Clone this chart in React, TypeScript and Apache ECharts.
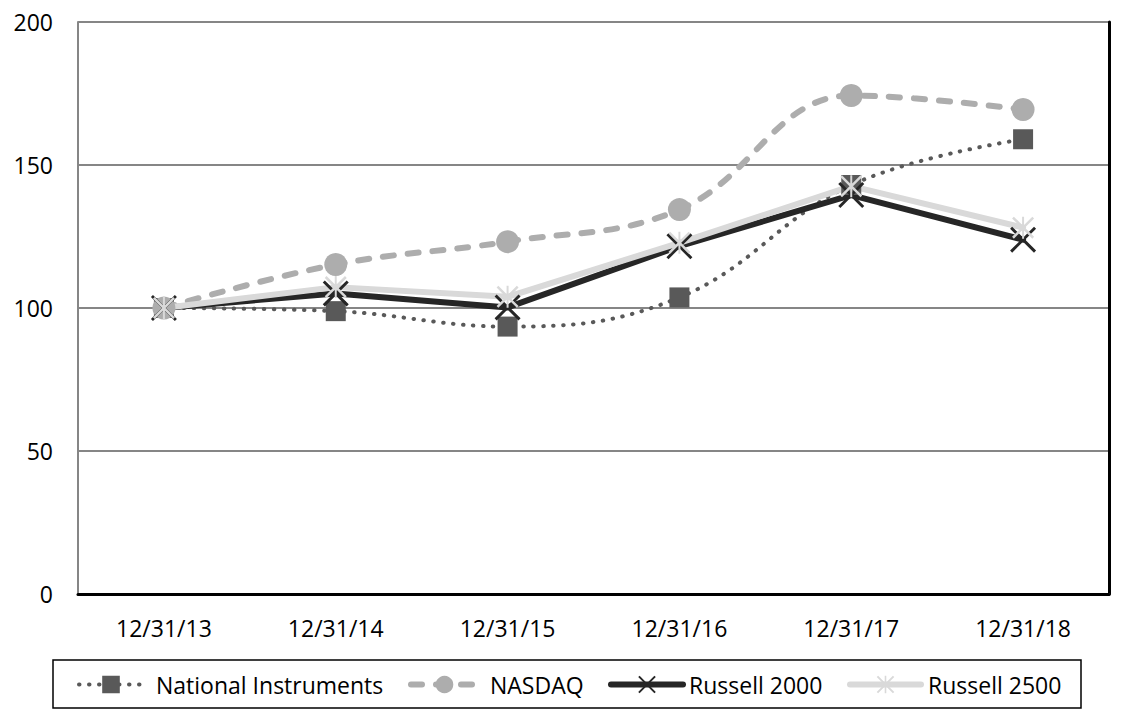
import React, { useEffect, useRef } from "react";
import * as echarts from "echarts";

const categories = ["12/31/13", "12/31/14", "12/31/15", "12/31/16", "12/31/17", "12/31/18"];
const nationalInstruments = [100, 98.9, 93.5, 103.7, 143, 159];
const nasdaq = [100, 115.2, 123.2, 134.4, 174.3, 169.4];
const russell2000 = [100, 105.1, 100.2, 121.6, 139.5, 123.9];
const russell2500 = [100, 107.3, 103.9, 122.8, 142.6, 128.1];
const yTicks = { min: 0, max: 200, interval: 50 };

const X_PATH = "path://M0,0.8 L0.8,0 L10,9.2 L9.2,10 Z M9.2,0 L10,0.8 L0.8,10 L0,9.2 Z";
const STAR_PATH =
  "path://M0,0.8 L0.8,0 L10,9.2 L9.2,10 Z M9.2,0 L10,0.8 L0.8,10 L0,9.2 Z M4.55,0 L5.45,0 L5.45,10 L4.55,10 Z";

const FONT = "Open Sans";

export default function App() {
  const ref = useRef<HTMLDivElement>(null);
  useEffect(() => {
    if (!ref.current) return;
    const chart = echarts.init(ref.current, null, { renderer: "svg" });
    const axisGrey = "#868686";
    const legendBase = (
      name: string,
      left: number,
      width: number,
      padLeft: number,
      lineStyle: any
    ) => ({
      data: [name],
      left,
      top: 673,
      padding: 0,
      itemWidth: width,
      itemHeight: 22,
      lineStyle,
      textStyle: { fontFamily: FONT, fontSize: 23, color: "#000", padding: [0, 0, 0, padLeft] },
    });
    chart.setOption({
      animation: false,
      backgroundColor: "#fff",
      textStyle: { fontFamily: FONT },
      grid: { left: 78, right: 19, top: 22, bottom: 126 },
      legend: [
        legendBase("National Instruments", 77, 64, 8, { width: 4, type: [0.5, 9.5], cap: "round" }),
        legendBase("NASDAQ", 408, 67, 7, { width: 6, type: [11, 14], cap: "round" }),
        legendBase("Russell 2000", 608, 72, 1, { width: 6, type: "solid", cap: "round" }),
        legendBase("Russell 2500", 847, 71, 2, { width: 6, type: "solid", cap: "round" }),
      ],
      xAxis: [
        {
          type: "category",
          data: categories,
          boundaryGap: true,
          axisLine: { lineStyle: { color: axisGrey, width: 2 } },
          axisTick: { show: false },
          axisLabel: { fontFamily: FONT, fontSize: 23, color: "#000", margin: 22 },
        },
        {
          type: "category",
          data: categories,
          position: "top",
          boundaryGap: true,
          axisLine: { lineStyle: { color: "#000", width: 3 } },
          axisTick: { show: false },
          axisLabel: { show: false },
        },
      ],
      yAxis: [
        {
          type: "value",
          min: yTicks.min,
          max: yTicks.max,
          interval: yTicks.interval,
          axisLine: { show: true, lineStyle: { color: axisGrey, width: 2 } },
          axisTick: { show: false },
          splitLine: { lineStyle: { color: axisGrey, width: 2 } },
          axisLabel: { fontFamily: FONT, fontSize: 23, color: "#000", margin: 25 },
        },
        {
          type: "value",
          position: "right",
          min: yTicks.min,
          max: yTicks.max,
          interval: yTicks.interval,
          axisLine: { show: true, lineStyle: { color: "#000", width: 3 } },
          axisTick: { show: false },
          splitLine: { show: false },
          axisLabel: { show: false },
        },
      ],
      graphic: [
        {
          type: "rect",
          shape: { x: 53, y: 660, width: 1028, height: 48 },
          style: { fill: "none", stroke: "#000", lineWidth: 1.5 },
        },
      ],
      series: [
        {
          name: "National Instruments",
          type: "line",
          data: nationalInstruments,
          smooth: 0.4,
          symbol: "rect",
          symbolSize: 20,
          itemStyle: { color: "#595959" },
          lineStyle: { color: "#595959", width: 4, type: [0.5, 9.5], cap: "round" },
        },
        {
          name: "NASDAQ",
          type: "line",
          data: nasdaq,
          smooth: 0.4,
          symbol: "circle",
          symbolSize: 23,
          itemStyle: { color: "#ADADAD" },
          lineStyle: { color: "#ADADAD", width: 6, type: [11, 14], cap: "round" },
        },
        {
          name: "Russell 2000",
          type: "line",
          data: russell2000,
          symbol: X_PATH,
          symbolSize: 26,
          itemStyle: { color: "#262626" },
          lineStyle: { color: "#262626", width: 6, cap: "round" },
        },
        {
          name: "Russell 2500",
          type: "line",
          data: russell2500,
          symbol: STAR_PATH,
          symbolSize: 22,
          itemStyle: { color: "#D9D9D9" },
          lineStyle: { color: "#D9D9D9", width: 6, cap: "round" },
        },
      ],
    });
    return () => chart.dispose();
  }, []);
  return (
    <div
      ref={ref}
      style={{ position: "absolute", left: 0, top: 0, width: 1128, height: 720 }}
    />
  );
}
